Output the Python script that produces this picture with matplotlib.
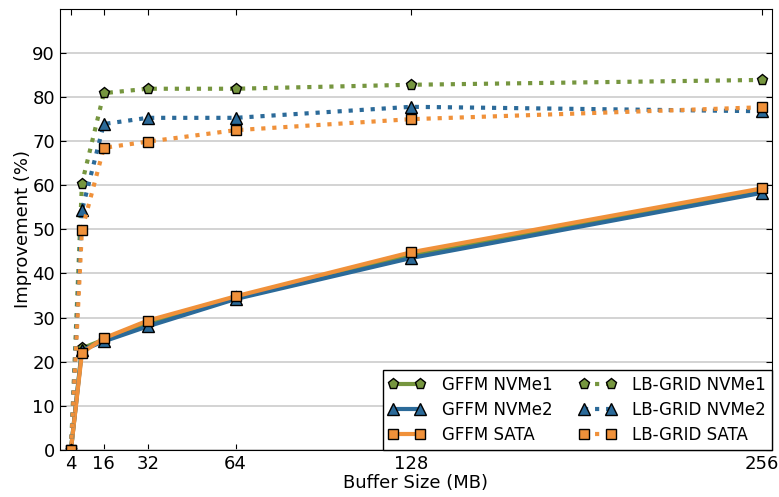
import numpy as np
import matplotlib
matplotlib.use('Agg')
import matplotlib.pyplot as plt

# buffer sizes (MB)
sizes = [4, 8, 16, 32, 64, 128, 256]

# improvement (%)
gffm_nvme1 = [0, 23.0, 25.0, 28.7, 34.6, 44.2, 58.9]
gffm_nvme2 = [0, 22.6, 24.6, 28.0, 34.2, 43.5, 58.3]
gffm_sata = [0, 22.0, 25.3, 29.3, 34.8, 44.8, 59.3]
lb_nvme1 = [0, 60.4, 80.9, 81.9, 81.9, 82.8, 83.9]
lb_nvme2 = [0, 54.3, 73.9, 75.3, 75.3, 77.8, 76.8]
lb_sata = [0, 49.8, 68.5, 69.9, 72.5, 75.0, 77.7]

xticks = [4, 16, 32, 64, 128, 256]
yticks = [0, 10, 20, 30, 40, 50, 60, 70, 80, 90]

green = '#76963f'
blue = '#2b6a99'
orange = '#f0913a'

plt.rcParams['font.family'] = 'DejaVu Sans'
plt.rcParams['font.size'] = 12

fig = plt.figure(figsize=(7.79, 4.97), dpi=100)
ax = fig.add_axes([0.077, 0.095, 0.914, 0.887])

#solid lines
ax.plot(sizes, gffm_nvme1, '-', color=green, lw=3, marker='p', ms=8,
        mec='black', mew=1, label='GFFM NVMe1')
ax.plot(sizes, gffm_nvme2, '-', color=blue, lw=3, marker='^', ms=8,
        mec='black', mew=1, label='GFFM NVMe2')
ax.plot(sizes, gffm_sata, '-', color=orange, lw=3, marker='s', ms=7.5,
        mec='black', mew=1, label='GFFM SATA')

#dotted lines
ax.plot(sizes, lb_nvme1, ':', color=green, lw=3, marker='p', ms=8,
        mec='black', mew=1, label='LB-GRID NVMe1')
ax.plot(sizes, lb_nvme2, ':', color=blue, lw=3, marker='^', ms=8,
        mec='black', mew=1, label='LB-GRID NVMe2')
ax.plot(sizes, lb_sata, ':', color=orange, lw=3, marker='s', ms=7.5,
        mec='black', mew=1, label='LB-GRID SATA')

ax.set_xlim(0, 259.6)
ax.set_ylim(0, 100)
ax.set_xticks(xticks)
ax.set_yticks(yticks)
ax.tick_params(direction='in', top=True, right=True, labelsize=13, length=4)
ax.yaxis.grid(True, color='#cccccc', lw=1.2)
ax.set_axisbelow(True)

ax.set_xlabel('Buffer Size (MB)', fontsize=13, labelpad=1)
ax.set_ylabel('Improvement (%)', fontsize=13, labelpad=0)

leg = ax.legend(loc='lower right', ncol=2, numpoints=2, fontsize=12,
                fancybox=False, borderaxespad=0, framealpha=1,
                edgecolor='black', columnspacing=1.6, handletextpad=1.0,
                handlelength=2.2, labelspacing=0.42, borderpad=0.35)
leg.get_frame().set_linewidth(1)

fig.savefig('out.png', dpi=100)
